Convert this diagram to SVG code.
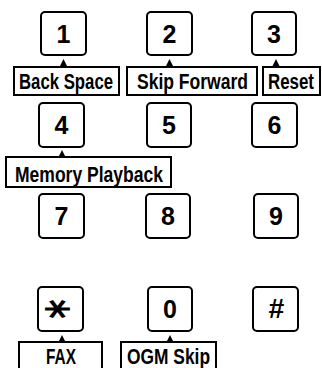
<svg xmlns="http://www.w3.org/2000/svg" width="322" height="368" viewBox="0 0 322 368">
<style>
.key{fill:#fff;stroke:#000;stroke-width:2}
.lab{fill:#fff;stroke:#000;stroke-width:2}
.d{font-family:"Liberation Sans",Arial,sans-serif;font-size:25px;font-weight:bold;text-anchor:middle;fill:#000}
.t{font-family:"Liberation Sans Narrow","Liberation Sans",Arial,sans-serif;font-size:21.5px;font-weight:bold;fill:#000}
.ah{fill:#000}
</style>
<rect width="322" height="368" fill="#fff"/>
<g id="key1"><rect class="key" x="41" y="12" width="45" height="43" rx="4"/><text class="d" x="63.5" y="43">1</text></g>
<g id="key2"><rect class="key" x="147" y="12" width="45" height="43" rx="4"/><text class="d" x="169.5" y="43">2</text></g>
<g id="key3"><rect class="key" x="252" y="12" width="44" height="43" rx="4"/><text class="d" x="274" y="43">3</text></g>
<g id="key4"><rect class="key" x="39" y="103" width="45" height="44" rx="4"/><text class="d" x="61.5" y="134">4</text></g>
<g id="key5"><rect class="key" x="147" y="103" width="44" height="44" rx="4"/><text class="d" x="169" y="134">5</text></g>
<g id="key6"><rect class="key" x="252" y="103" width="45" height="44" rx="4"/><text class="d" x="274.5" y="134">6</text></g>
<g id="key7"><rect class="key" x="39" y="194" width="45" height="44" rx="4"/><text class="d" x="61.5" y="225">7</text></g>
<g id="key8"><rect class="key" x="146" y="194" width="44" height="44" rx="4"/><text class="d" x="168" y="225">8</text></g>
<g id="key9"><rect class="key" x="254" y="194" width="44" height="44" rx="4"/><text class="d" x="276" y="225">9</text></g>
<g id="keystar"><rect class="key" x="38" y="287" width="45" height="44" rx="4"/><text style="font-family:'DejaVu Sans',sans-serif;font-size:50px;font-weight:bold;text-anchor:middle" transform="translate(60.5,309) rotate(90) scale(0.75,1.05)" y="29">*</text></g>
<g id="key0"><rect class="key" x="148" y="287" width="44" height="44" rx="4"/><text class="d" x="170" y="318">0</text></g>
<g id="keyhash"><rect class="key" x="253" y="287" width="45" height="44" rx="4"/><text class="d" x="276" y="318" style="font-size:28px;font-style:italic">#</text></g>
<g id="lblBackSpace"><rect class="lab" x="14" y="67" width="105" height="28"/><text class="t" x="19" y="89" textLength="94" lengthAdjust="spacingAndGlyphs">Back Space</text></g>
<g id="lblSkipForward"><rect class="lab" x="127" y="67" width="130" height="28"/><text class="t" x="137" y="89" textLength="111" lengthAdjust="spacingAndGlyphs">Skip Forward</text></g>
<g id="lblReset"><rect class="lab" x="263" y="67" width="57" height="28"/><text class="t" x="268" y="89" textLength="46" lengthAdjust="spacingAndGlyphs">Reset</text></g>
<g id="lblMemoryPlayback"><rect class="lab" x="6" y="157" width="165" height="30"/><text class="t" x="15" y="182" textLength="148" lengthAdjust="spacingAndGlyphs">Memory Playback</text></g>
<g id="lblFAX"><rect class="lab" x="19" y="342" width="83" height="32"/><text class="t" x="46" y="364" textLength="30" lengthAdjust="spacingAndGlyphs">FAX</text></g>
<g id="lblOGMSkip"><rect class="lab" x="121" y="342" width="95" height="32"/><text class="t" x="127" y="364" textLength="83" lengthAdjust="spacingAndGlyphs">OGM Skip</text></g>
<g id="connectors">
<polygon class="ah" points="63.5,59 60,66 67,66"/>
<polygon class="ah" points="169.5,59 166,66 173,66"/>
<polygon class="ah" points="276,59 272.5,66 279.5,66"/>
<polygon class="ah" points="62,150 58.5,157 65.5,157"/>
<polygon class="ah" points="62,335 58.5,342 65.5,342"/>
<polygon class="ah" points="170,335 166.5,342 173.5,342"/>
</g>
</svg>
